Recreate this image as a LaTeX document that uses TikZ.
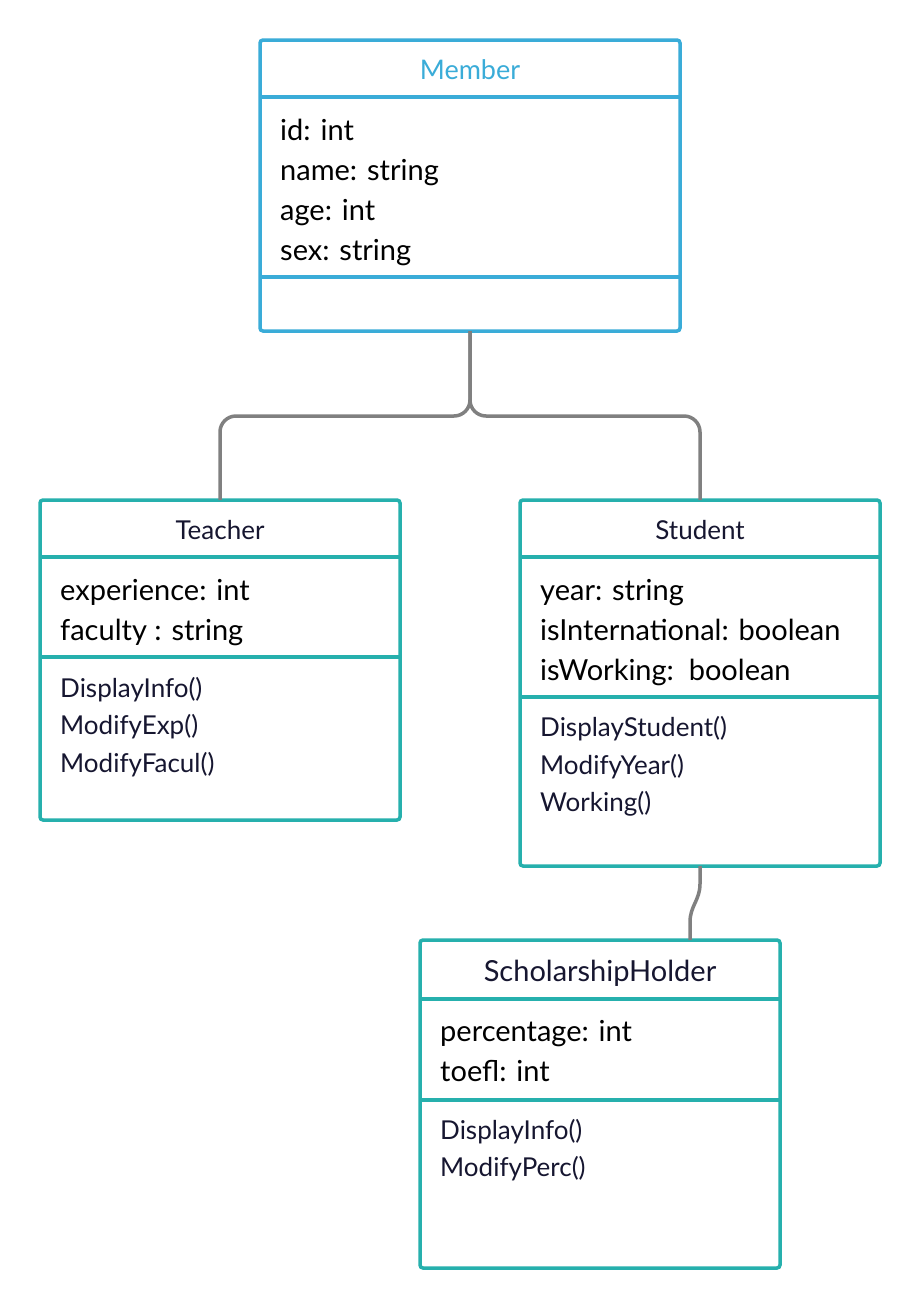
\documentclass[tikz,border=0pt]{standalone}
\usepackage{fontspec}
\setmainfont{Lato}
\definecolor{mblue}{RGB}{58,172,216}
\definecolor{teal}{RGB}{38,176,173}
\definecolor{conn}{RGB}{128,128,128}
\definecolor{navy}{RGB}{22,22,48}
\tikzset{
  box/.style={draw, line width=3.5pt, rounded corners=3pt, anchor=north west, inner sep=0pt, outer sep=0pt, fill=white},
  sep/.style={line width=3.5pt},
  attr/.style={anchor=base west, inner sep=0pt, font=\fontsize{29}{34}\selectfont, text=black},
  meth/.style={anchor=base west, inner sep=0pt, font=\fontsize{26}{30}\selectfont, text=navy},
  ttl/.style={anchor=base, inner sep=0pt, font=\fontsize{26}{30}\selectfont, text=navy},
  link/.style={draw=conn, line width=3.5pt}
}
\begin{document}
\begin{tikzpicture}[x=1pt,y=-1pt]
\useasboundingbox[fill=white] (0,0) rectangle (920,1310);
% Member
\node[box, draw=mblue, minimum width=420pt, minimum height=291pt] (member) at (260,40) {};
\draw[sep, mblue] (260,97) -- (680,97);
\draw[sep, mblue] (260,277) -- (680,277);
\node[ttl, text=mblue, font=\fontsize{27}{30}\selectfont] (mt) at (470,79) {Member};
\node[attr] (ma1) at (280,140) {id: int};
\node[attr] (ma2) at (280,180) {name: string};
\node[attr] (ma3) at (280,220) {age: int};
\node[attr] (ma4) at (280,260) {sex: string};
% Teacher
\node[box, draw=teal, minimum width=360pt, minimum height=320pt] (teacher) at (40,500) {};
\draw[sep, teal] (40,557) -- (400,557);
\draw[sep, teal] (40,657) -- (400,657);
\node[ttl] (tt) at (220,539) {Teacher};
\node[attr] (ta1) at (60,600) {experience: int};
\node[attr] (ta2) at (60,640) {faculty : string};
\node[meth] (tm1) at (60,697) {DisplayInfo()};
\node[meth] (tm2) at (60,734) {ModifyExp()};
\node[meth] (tm3) at (60,772) {ModifyFacul()};
% Student
\node[box, draw=teal, minimum width=360pt, minimum height=366pt] (student) at (520,500) {};
\draw[sep, teal] (520,557) -- (880,557);
\draw[sep, teal] (520,697) -- (880,697);
\node[ttl] (st) at (700,539) {Student};
\node[attr] (sa1) at (540,600) {year: string};
\node[attr] (sa2) at (540,640) {isInternational: boolean};
\node[attr] (sa3) at (540,680) {isWorking:\ \ boolean};
\node[meth] (sm1) at (540,736) {DisplayStudent()};
\node[meth] (sm2) at (540,774) {ModifyYear()};
\node[meth] (sm3) at (540,811) {Working()};
% ScholarshipHolder
\node[box, draw=teal, minimum width=360pt, minimum height=328pt] (schol) at (420,940) {};
\draw[sep, teal] (420,999) -- (780,999);
\draw[sep, teal] (420,1100) -- (780,1100);
\node[ttl, font=\fontsize{29}{34}\selectfont] (ht) at (600,981) {ScholarshipHolder};
\node[attr] (ha1) at (440,1041) {percentage: int};
\node[attr] (ha2) at (440,1081) {toefl: int};
\node[meth] (hm1) at (440,1139) {DisplayInfo()};
\node[meth] (hm2) at (440,1176) {ModifyPerc()};
% Connectors
\coordinate (j) at (470,416);
\draw[link, rounded corners=16pt] (member.south) -- (j) -- (teacher.north |- j) -- (teacher.north);
\draw[link, rounded corners=16pt] (member.south) -- (j) -- (student.north |- j) -- (student.north);
\coordinate (s1) at (700,884);
\coordinate (s2) at (690,922);
\draw[link] (student.south) -- (s1) .. controls (700,900) and (690,906) .. (s2) -- (schol.north -| s2);
\end{tikzpicture}
\end{document}
